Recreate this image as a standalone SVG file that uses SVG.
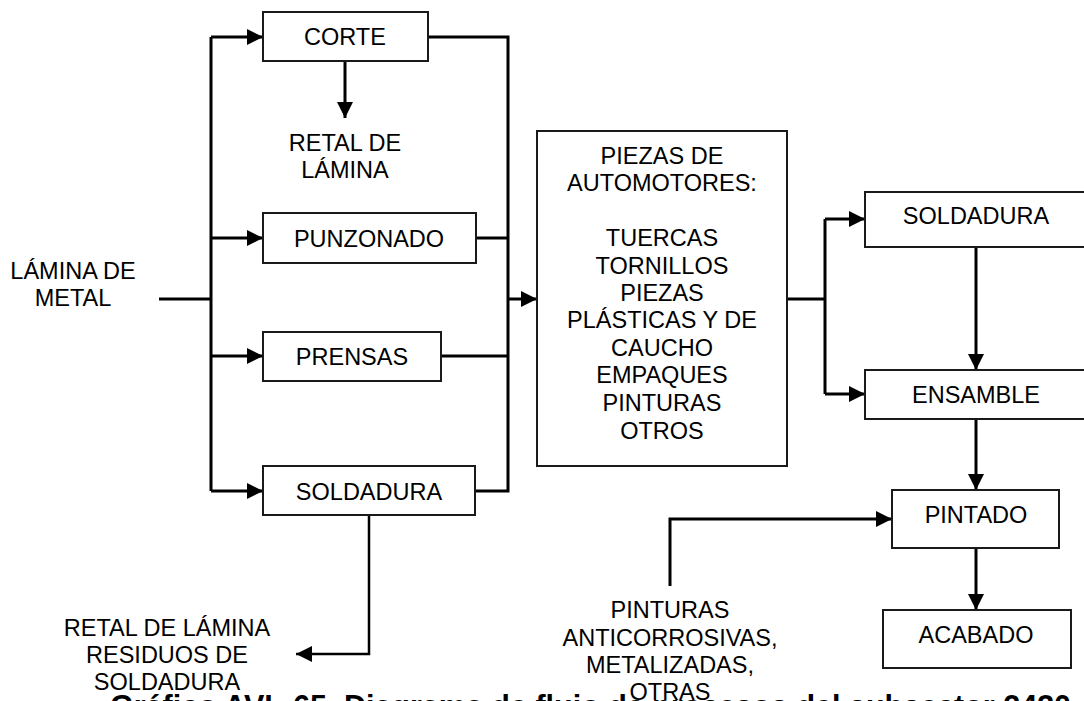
<svg xmlns="http://www.w3.org/2000/svg" width="1084" height="701" viewBox="0 0 1084 701">
<defs>
<marker id="ah" markerUnits="userSpaceOnUse" markerWidth="16" markerHeight="16" viewBox="0 0 15 15" refX="15" refY="7.5" orient="auto">
<path d="M0,0 L15,7.5 L0,15 z" fill="#000"/>
</marker>
<style>
.box{fill:#fff;stroke:#1a1a1a;stroke-width:2}
.t{font-family:"Liberation Sans",Arial,sans-serif;font-size:23.5px;fill:#000;text-anchor:middle}
.c{fill:none;stroke:#000;stroke-width:3}
.a{marker-end:url(#ah)}
.cap{font-family:"Liberation Sans",Arial,sans-serif;font-size:30.5px;font-weight:bold;fill:#000}
</style>
</defs>
<rect width="1084" height="701" fill="#fff"/>
<g id="connectors">
<polyline class="c" points="159,299 211,299"/>
<polyline class="c" points="211,37 211,491"/>
<polyline class="c a" points="211,37 263,37"/>
<polyline class="c a" points="211,238 263,238"/>
<polyline class="c a" points="211,356 263,356"/>
<polyline class="c a" points="211,491 263,491"/>
<polyline class="c a" points="345,61 345,118"/>
<polyline class="c" points="428,37 508,37 508,491 475,491"/>
<polyline class="c" points="476,238 508,238"/>
<polyline class="c" points="441,356 508,356"/>
<polyline class="c a" points="508,299 537,299"/>
<polyline class="c a" style="stroke-width:2.5" points="369,515 369,654 296,654"/>
<polyline class="c" points="787,299 825,299"/>
<polyline class="c" points="825,219 825,394"/>
<polyline class="c a" points="825,219 865,219"/>
<polyline class="c a" points="825,394 865,394"/>
<polyline class="c a" points="976,247 976,370"/>
<polyline class="c a" points="976,419 976,490"/>
<polyline class="c a" points="976,548 976,610"/>
<polyline class="c a" points="670,586 670,519 892,519"/>
</g>
<g id="lamina-metal">
<text class="t" x="73" y="279">LÁMINA DE</text>
<text class="t" x="73" y="306">METAL</text>
</g>
<g id="corte">
<rect class="box" x="263" y="12" width="165" height="49"/>
<text class="t" x="345" y="45">CORTE</text>
</g>
<g id="retal-lamina">
<text class="t" x="345" y="151">RETAL DE</text>
<text class="t" x="345" y="178">LÁMINA</text>
</g>
<g id="punzonado">
<rect class="box" x="263" y="213" width="213" height="50"/>
<text class="t" x="369" y="247">PUNZONADO</text>
</g>
<g id="prensas">
<rect class="box" x="263" y="332" width="178" height="49"/>
<text class="t" x="352" y="365">PRENSAS</text>
</g>
<g id="soldadura1">
<rect class="box" x="263" y="466" width="212" height="49"/>
<text class="t" x="369" y="500">SOLDADURA</text>
</g>
<g id="residuos">
<text class="t" x="167" y="636">RETAL DE LÁMINA</text>
<text class="t" x="167" y="663">RESIDUOS DE</text>
<text class="t" x="167" y="690">SOLDADURA</text>
</g>
<g id="piezas">
<rect class="box" x="537" y="131" width="250" height="335"/>
<text class="t" x="662" y="164">PIEZAS DE</text>
<text class="t" x="662" y="191">AUTOMOTORES:</text>
<text class="t" x="662" y="246">TUERCAS</text>
<text class="t" x="662" y="274">TORNILLOS</text>
<text class="t" x="662" y="301">PIEZAS</text>
<text class="t" x="662" y="328">PLÁSTICAS Y DE</text>
<text class="t" x="662" y="356">CAUCHO</text>
<text class="t" x="662" y="383">EMPAQUES</text>
<text class="t" x="662" y="411">PINTURAS</text>
<text class="t" x="662" y="439">OTROS</text>
</g>
<g id="soldadura2">
<rect class="box" x="865" y="192" width="224" height="55"/>
<text class="t" x="976" y="224">SOLDADURA</text>
</g>
<g id="ensamble">
<rect class="box" x="865" y="370" width="224" height="49"/>
<text class="t" x="976" y="403">ENSAMBLE</text>
</g>
<g id="pintado">
<rect class="box" x="892" y="490" width="167" height="58"/>
<text class="t" x="976" y="523">PINTADO</text>
</g>
<g id="acabado">
<rect class="box" x="883" y="610" width="188" height="58"/>
<text class="t" x="976" y="643">ACABADO</text>
</g>
<g id="pinturas">
<text class="t" x="670" y="618">PINTURAS</text>
<text class="t" x="670" y="646">ANTICORROSIVAS,</text>
<text class="t" x="670" y="673">METALIZADAS,</text>
<text class="t" x="670" y="700">OTRAS</text>
</g>
<g id="caption">
<text class="cap" x="110" y="717">Gráfico AVL-65. Diagrama de flujo de procesos del subsector 2430</text>
</g>
</svg>
